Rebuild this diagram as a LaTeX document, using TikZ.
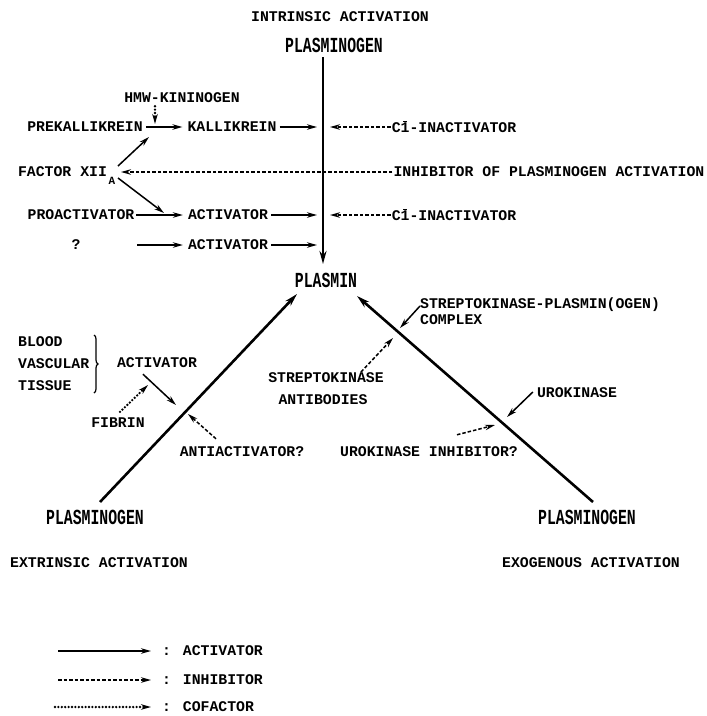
\documentclass[tikz,border=0pt]{standalone}
\usepackage{fontspec}
\newfontfamily\monob{Liberation Mono}
\usetikzlibrary{arrows.meta,decorations.pathreplacing}
\newcommand\lblfont{\monob\bfseries\fontsize{14.8}{16}\selectfont}
\newcommand\subfont{\monob\bfseries\fontsize{11}{12}\selectfont}
\newcommand\barone{\rlap{\hspace{0.17em}\raisebox{0.70em}{\rule{0.26em}{0.09em}}}1}
\tikzset{
  lbl/.style={font=\lblfont, inner sep=0pt},
  lblw/.style={lbl, anchor=west},
  subl/.style={font=\subfont, inner sep=0pt},
  big/.style={inner sep=0pt, font=\lblfont},
  act/.style={line width=1.5pt, -{Stealth[length=10pt,width=5.5pt]}},
  inh/.style={act, dash pattern=on 3.5pt off 2pt},
  cof/.style={line width=2.6pt, line cap=round, dash pattern=on 0pt off 3.4pt, -{Stealth[length=10pt,width=5.5pt]}},
  mainarr/.style={line width=2.6pt, -{Stealth[length=13pt,width=7pt]}},
  bracestyle/.style={line width=1.2pt, decorate, decoration={brace, amplitude=4pt}}
}
\begin{document}
\begin{tikzpicture}[x=1pt,y=-1pt]
\useasboundingbox[fill=white] (0,0) rectangle (707,716);

% intrinsic activation
\node[lbl] (title) at (340,17) {INTRINSIC ACTIVATION};
\node[big] (pgtop) at (334,45) {\scalebox{1}[1.45]{PLASMINOGEN}};
\node[big] (plasmin) at (326,280) {\scalebox{1}[1.45]{PLASMIN}};
\coordinate (vtop) at (323,57);
\coordinate (vbot) at (323,264);
\draw[mainarr] (vtop) -- (vbot);

\node[lbl] (hmw) at (182,98) {HMW-KININOGEN};
\node[lbl] (prek) at (85,127) {PREKALLIKREIN};
\node[lbl] (kall) at (232,127) {KALLIKREIN};
\coordinate (kj) at (155,124);
\draw[cof] (hmw.south -| kj) ++(0,3) -- (kj);
\draw[act] ([xshift=3pt]prek.east) -- ([xshift=-5pt]kall.west);
\coordinate (l1) at (317,127);
\draw[act] ([xshift=3pt]kall.east) -- (l1);
\node[lbl] (c1a) at (454,127) {C\barone-INACTIVATOR};
\coordinate (r1) at (330,127);
\draw[inh] ([xshift=-1pt]c1a.west) -- (r1);

\node[lbl] (f12) at (62.5,172) {FACTOR XII};
\node[subl] (f12a) at (112,181) {A};
\node[lbl] (ipa) at (549,172) {INHIBITOR OF PLASMINOGEN ACTIVATION};
\coordinate (f12r) at (121,172);
\draw[inh] ([xshift=-1pt]ipa.west) -- (f12r);
\coordinate (f12u) at (118,166);
\coordinate (kju) at (149,137);
\draw[act] (f12u) -- (kju);
\coordinate (f12d) at (118,178);
\coordinate (aj) at (164,213);
\draw[act] (f12d) -- (aj);

\node[lbl] (proa) at (81,215) {PROACTIVATOR};
\node[lbl] (act1) at (228,215) {ACTIVATOR};
\draw[act] ([xshift=2pt]proa.east) -- ([xshift=-5pt]act1.west);
\coordinate (l2) at (317,215);
\draw[act] ([xshift=3pt]act1.east) -- (l2);
\node[lbl] (c1b) at (454,215) {C\barone-INACTIVATOR};
\coordinate (r2) at (330,215);
\draw[inh] ([xshift=-1pt]c1b.west) -- (r2);

\node[lbl] (q) at (76,245) {?};
\node[lbl] (act2) at (228,245) {ACTIVATOR};
\coordinate (qs) at (137,245);
\draw[act] (qs) -- ([xshift=-5pt]act2.west);
\coordinate (l3) at (317,245);
\draw[act] ([xshift=3pt]act2.east) -- (l3);

% extrinsic
\node[big] (pgl) at (95,517) {\scalebox{1}[1.45]{PLASMINOGEN}};
\coordinate (lb) at (100,502);
\coordinate (lt) at (297,294);
\draw[mainarr] (lb) -- (lt);

\node[lblw] (blood) at (18,342) {BLOOD};
\node[lblw] (vasc) at (18,364) {VASCULAR};
\node[lblw] (tiss) at (18,386) {TISSUE};
\coordinate (bt) at (94,335);
\coordinate (bb) at (94,393);
\draw[bracestyle] (bt) -- (bb);
\node[lbl] (act3) at (157,363) {ACTIVATOR};
\coordinate (a3e) at (176,405);
\draw[act] ([shift={(-14pt,-6pt)}]act3.south) -- (a3e);
\node[lbl] (fib) at (118,423) {FIBRIN};
\coordinate (fibe) at (148,385);
\draw[cof] ([shift={(2pt,6pt)}]fib.north) -- (fibe);
\node[lbl] (anti) at (242,452) {ANTIACTIVATOR?};
\coordinate (antie) at (188,414);
\draw[inh] ([shift={(-26pt,8pt)}]anti.north) -- (antie);
\node[lbl] (extr) at (99,563) {EXTRINSIC ACTIVATION};

% exogenous
\node[big] (pgr) at (587,517) {\scalebox{1}[1.45]{PLASMINOGEN}};
\coordinate (rb) at (593,502);
\coordinate (rt) at (357,296);
\draw[mainarr] (rb) -- (rt);
\node[lblw] (skc) at (420,305) {STREPTOKINASE-PLASMIN(OGEN)};
\node[lblw] (skc2) at (420,320) {COMPLEX};
\coordinate (skce) at (400,328);
\draw[act] ([yshift=-1pt]skc.west) -- (skce);
\node[lbl] (sk) at (326,378) {STREPTOKINASE};
\node[lbl] (skab) at (323,400) {ANTIBODIES};
\coordinate (ske) at (393,338);
\coordinate (sks) at (361,372);
\draw[inh] (sks) -- (ske);
\node[lbl] (uk) at (577,393) {UROKINASE};
\coordinate (uke) at (507,417);
\draw[act] ([xshift=-4pt,yshift=1pt]uk.west) -- (uke);
\node[lbl] (uki) at (429,452) {UROKINASE INHIBITOR?};
\coordinate (ukie) at (495,425);
\draw[inh] ([shift={(28pt,12pt)}]uki.north) -- (ukie);
\node[lbl] (exo) at (591,563) {EXOGENOUS ACTIVATION};

% legend
\node[lblw] (lga) at (162,651) {: ACTIVATOR};
\node[lblw] (lgi) at (162,680) {: INHIBITOR};
\node[lblw] (lgc) at (162,707) {: COFACTOR};
\coordinate (lgas) at (58,651);
\coordinate (lgis) at (58,680);
\coordinate (lgcs) at (55,707);
\draw[act] (lgas) -- ([xshift=-11pt]lga.west);
\draw[inh] (lgis) -- ([xshift=-11pt]lgi.west);
\draw[cof] (lgcs) -- ([xshift=-11pt]lgc.west);
\end{tikzpicture}
\end{document}
